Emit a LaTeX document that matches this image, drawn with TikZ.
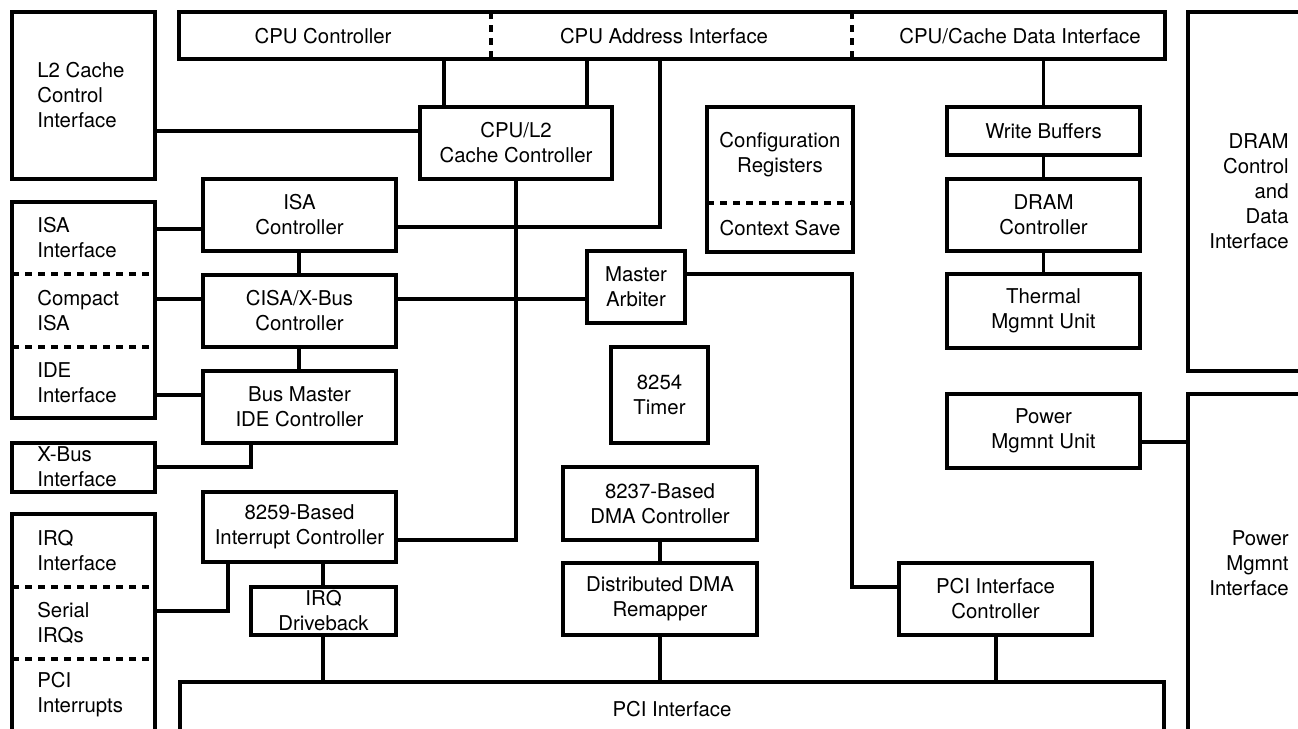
\documentclass[tikz,border=0pt]{standalone}
\usepackage{fontspec}
\setmainfont{TeX Gyre Heros}
\newcommand\fs{\fontsize{11.6pt}{14.2pt}\selectfont}
\tikzset{
  lw/.style={line width=1.8pt},
  blk/.style={draw, lw, align=center, inner sep=0pt, font=\fs},
  txt/.style={inner sep=0pt, font=\fs},
  sep/.style={lw, dash pattern=on 4pt off 3.4pt},
  conn/.style={lw},
}
\newcommand\B[6]{\node[blk, minimum width={(#4-#2)*0.02cm}, minimum height={(#5-#3)*0.02cm}] (#1) at ({(#2+#4)/2},{(#3+#5)/2}) {#6};}
\begin{document}
\begin{tikzpicture}[x=0.02cm,y=-0.02cm]
\useasboundingbox (0,0) rectangle (1298,728);
\clip (0,0) rectangle (1298,728);
% top bar
\B{cpubar}{179}{12}{1165}{59}{}
\draw[sep] (491,12) -- (491,59);
\draw[sep] (852,12) -- (852,59);
\node[txt] (t1) at (323,36) {CPU Controller};
\node[txt] (t2) at (664,36) {CPU Address Interface};
\node[txt] (t3) at (1020,36) {CPU/Cache Data Interface};
% left column
\B{l2ci}{12}{12}{155}{179}{}
\node[txt, anchor=west, align=left] (l2t) at (37,95) {L2 Cache\\Control\\Interface};
\B{isaif}{12}{202}{155}{418}{}
\draw[sep] (12,274) -- (155,274);
\draw[sep] (12,347) -- (155,347);
\node[txt, anchor=west, align=left] (isat) at (37,238) {ISA\\Interface};
\node[txt, anchor=west, align=left] (cisat) at (37,311) {Compact\\ISA};
\node[txt, anchor=west, align=left] (idet) at (37,383) {IDE\\Interface};
\B{xbus}{12}{443}{155}{492}{}
\node[txt, anchor=west, align=left] (xbt) at (37,467) {X-Bus\\Interface};
\B{irqif}{12}{514}{155}{740}{}
\draw[sep] (12,587) -- (155,587);
\draw[sep] (12,659) -- (155,659);
\node[txt, anchor=west, align=left] (irqt) at (37,551) {IRQ\\Interface};
\node[txt, anchor=west, align=left] (sert) at (37,623) {Serial\\IRQs};
\node[txt, anchor=west, align=left] (pcit) at (37,695) {PCI\\Interrupts};
% second column
\B{cpul2}{420}{107}{612}{179}{CPU/L2\\Cache Controller}
\B{isac}{203}{179}{396}{251}{ISA\\Controller}
\B{cisa}{203}{275}{396}{347}{CISA/X-Bus\\Controller}
\B{bmide}{203}{371}{396}{443}{Bus Master\\IDE Controller}
\B{i8259}{203}{492}{396}{562}{8259-Based\\Interrupt Controller}
\B{irqdb}{251}{587}{396}{635}{IRQ\\Driveback}
% middle
\B{config}{707}{107}{853}{252}{}
\draw[sep] (707,203) -- (853,203);
\node[txt, align=center] (cft) at (780,155) {Configuration\\Registers};
\node[txt] (cst) at (780,228) {Context Save};
\B{arb}{587}{251}{685}{323}{Master\\Arbiter}
\B{timer}{611}{347}{708}{443}{8254\\Timer}
\B{dma}{563}{467}{757}{540}{8237-Based\\DMA Controller}
\B{ddma}{563}{563}{757}{635}{Distributed DMA\\Remapper}
\B{pcic}{899}{563}{1092}{635}{PCI Interface\\Controller}
% right
\B{wbuf}{947}{107}{1140}{155}{Write Buffers}
\B{dramc}{947}{179}{1140}{251}{DRAM\\Controller}
\B{therm}{947}{274}{1140}{348}{Thermal\\Mgmnt Unit}
\B{pmu}{947}{394}{1140}{468}{Power\\Mgmnt Unit}
\B{dramif}{1188}{12}{1320}{371}{}
\node[txt, anchor=east, align=right] (dit) at (1289,191) {DRAM\\Control\\and\\Data\\Interface};
\B{pmif}{1188}{394}{1320}{740}{}
\node[txt, anchor=east, align=right] (pmt) at (1289,563) {Power\\Mgmnt\\Interface};
% bottom
\B{pci}{180}{682}{1164}{740}{}
\node[txt] (pcibt) at (672,709) {PCI Interface};
% connectors
\draw[conn] (l2ci.east |- 0,131) -- (cpul2.west |- 0,131);
\draw[conn] (cpubar.south -| 444,0) -- (cpul2.north -| 444,0);
\draw[conn] (cpubar.south -| 587,0) -- (cpul2.north -| 587,0);
\draw[conn] (cpubar.south -| 660,0) -- (660,227) -- (isac.east |- 0,227);
\draw[conn] (cpubar.south -| wbuf.north) -- (wbuf.north);
\draw[conn] (wbuf.south) -- (dramc.north);
\draw[conn] (dramc.south) -- (therm.north);
\draw[conn] (cpul2.south -| 516,0) -- (516,540) -- (i8259.east |- 0,540);
\draw[conn] (isaif.east |- 0,229) -- (isac.west |- 0,229);
\draw[conn] (isac.south -| 299,0) -- (cisa.north -| 299,0);
\draw[conn] (isaif.east |- 0,299) -- (cisa.west |- 0,299);
\draw[conn] (cisa.east |- 0,299) -- (arb.west |- 0,299);
\draw[conn] (cisa.south -| 299,0) -- (bmide.north -| 299,0);
\draw[conn] (isaif.east |- 0,395) -- (bmide.west |- 0,395);
\draw[conn] (xbus.east |- 0,467) -- (251,467) -- (bmide.south -| 251,0);
\draw[conn] (irqif.east |- 0,611) -- (228,611) -- (i8259.south -| 228,0);
\draw[conn] (i8259.south -| 323,0) -- (irqdb.north -| 323,0);
\draw[conn] (irqdb.south -| 323,0) -- (pci.north -| 323,0);
\draw[conn] (arb.east |- 0,274) -- (852,274) -- (852,587) -- (pcic.west |- 0,587);
\draw[conn] (pcic.south -| 996,0) -- (pci.north -| 996,0);
\draw[conn] (dma.south -| 660,0) -- (ddma.north -| 660,0);
\draw[conn] (ddma.south -| 660,0) -- (pci.north -| 660,0);
\draw[conn] (pmu.east |- 0,442) -- (pmif.west |- 0,442);
\end{tikzpicture}
\end{document}
